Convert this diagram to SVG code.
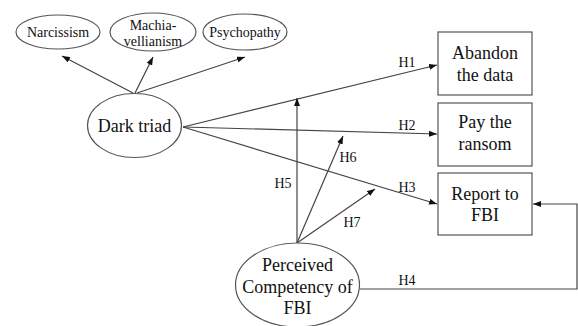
<svg xmlns="http://www.w3.org/2000/svg" width="578" height="326" viewBox="0 0 578 326" font-family="Liberation Serif, serif">
<defs>
<style>
.n{fill:#fff;stroke:#555;stroke-width:1.2}
.t{fill:#111;text-anchor:middle}
.big{font-size:18px}
.sm{font-size:14px}
.c{fill:none;stroke:#444;stroke-width:1.2}
</style>
<marker id="ah" viewBox="0 0 8 6" refX="8" refY="3" markerWidth="8" markerHeight="6" markerUnits="userSpaceOnUse" orient="auto">
<path d="M0,0 L8,3 L0,6 z" fill="#111"/>
</marker>
</defs>
<rect width="578" height="326" fill="#fff"/>
<g id="connectors">
<line class="c" x1="133" y1="93" x2="62" y2="56" marker-end="url(#ah)"/>
<line class="c" x1="135" y1="93" x2="153" y2="57" marker-end="url(#ah)"/>
<line class="c" x1="137" y1="93" x2="245" y2="57" marker-end="url(#ah)"/>
<line class="c" x1="183" y1="127" x2="437" y2="65" marker-end="url(#ah)"/>
<line class="c" x1="183" y1="127" x2="437" y2="134" marker-end="url(#ah)"/>
<line class="c" x1="183" y1="127" x2="437" y2="204" marker-end="url(#ah)"/>
<line class="c" x1="297" y1="243" x2="297" y2="98" marker-end="url(#ah)"/>
<line class="c" x1="297" y1="243" x2="343" y2="136" marker-end="url(#ah)"/>
<line class="c" x1="297" y1="243" x2="375" y2="189" marker-end="url(#ah)"/>
<polyline class="c" points="360,289 577,289 577,204 533,204" marker-end="url(#ah)"/>
<g font-family="Liberation Serif, serif">
<text class="t sm" x="407" y="67">H1</text>
<text class="t sm" x="407" y="130">H2</text>
<text class="t sm" x="407" y="192">H3</text>
<text class="t sm" x="407" y="285">H4</text>
<text class="t sm" x="283" y="188">H5</text>
<text class="t sm" x="348" y="162">H6</text>
<text class="t sm" x="352" y="227">H7</text>
</g>
</g>
<g id="narcissism" font-family="Liberation Serif, serif">
<ellipse class="n" cx="58" cy="32" rx="42" ry="17"/>
<text class="t sm" x="58" y="37">Narcissism</text>
</g>
<g id="machiavellianism" font-family="Liberation Serif, serif">
<ellipse class="n" cx="153" cy="32" rx="43" ry="19"/>
<text class="t sm" x="153" y="30">Machia-</text>
<text class="t sm" x="153" y="46">vellianism</text>
</g>
<g id="psychopathy" font-family="Liberation Serif, serif">
<ellipse class="n" cx="245" cy="32" rx="42" ry="18"/>
<text class="t sm" x="245" y="37">Psychopathy</text>
</g>
<g id="dark-triad" font-family="Liberation Serif, serif">
<ellipse class="n" cx="134.5" cy="125.5" rx="47" ry="32"/>
<text class="t big" x="134.5" y="132">Dark triad</text>
</g>
<g id="abandon" font-family="Liberation Serif, serif">
<rect class="n" x="438" y="32" width="94" height="63"/>
<text class="t big" x="485" y="59">Abandon</text>
<text class="t big" x="485" y="81">the data</text>
</g>
<g id="pay" font-family="Liberation Serif, serif">
<rect class="n" x="438" y="103" width="94" height="63"/>
<text class="t big" x="485" y="128">Pay the</text>
<text class="t big" x="485" y="150">ransom</text>
</g>
<g id="report" font-family="Liberation Serif, serif">
<rect class="n" x="438" y="173" width="94" height="62"/>
<text class="t big" x="485" y="200">Report to</text>
<text class="t big" x="485" y="221">FBI</text>
</g>
<g id="perceived" font-family="Liberation Serif, serif">
<ellipse class="n" cx="297.5" cy="285" rx="62" ry="42"/>
<text class="t big" x="297.5" y="271">Perceived</text>
<text class="t big" x="297.5" y="293">Competency of</text>
<text class="t big" x="297.5" y="314">FBI</text>
</g>
</svg>
